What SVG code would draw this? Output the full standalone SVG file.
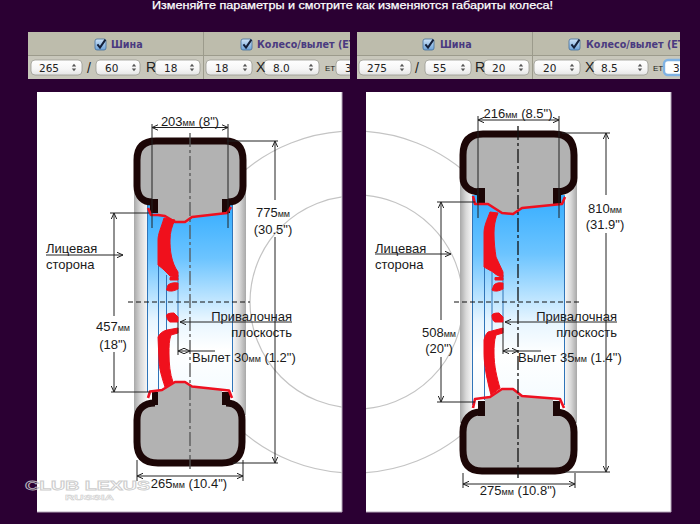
<svg xmlns="http://www.w3.org/2000/svg" xmlns:xlink="http://www.w3.org/1999/xlink" width="700" height="524" viewBox="0 0 700 524">
<style>
text{font-family:"Liberation Sans",Arial,sans-serif;fill:#1a1a1a}
.t{font-size:13px}
.m{font-size:9px}
.mid{text-anchor:middle}
.end{text-anchor:end}
.title{font-size:11.5px;fill:#fff;stroke:#fff;stroke-width:.25}
.hd{font-family:"DejaVu Sans",sans-serif;font-size:9.6px;font-weight:bold;fill:#4a3a80}
.sel{font-family:"DejaVu Sans",sans-serif;font-size:10.5px;fill:#222}
.sym{font-size:14px;fill:#222}
.selbox{fill:url(#selg);stroke:#9a9a92;stroke-width:.8}
.d{stroke:#222;stroke-width:1;fill:none}
.da{stroke:#222;stroke-width:1;fill:none;marker-start:url(#a);marker-end:url(#a)}
.a1{stroke:#222;stroke-width:1;fill:none;marker-end:url(#a)}
.gr{fill:none;stroke:#c4c4c4;stroke-width:1.2}
.tb{fill:none;stroke:#1c0606;stroke-width:7}
.tf{fill:#b2b2b2}
.bd{fill:#1c0606}
.r{fill:#f0101c;stroke:#f0101c;stroke-width:1;stroke-linejoin:round}
.rl{fill:none;stroke:#ee1020;stroke-width:2.6;stroke-linejoin:round}
.bl{stroke:#2f74b8;stroke-width:1;fill:none}
.ax{stroke:#555;stroke-width:1.3;stroke-dasharray:14 3 3 3;fill:none}
.ds{stroke:#111;stroke-width:1;stroke-dasharray:5 3;fill:none}
.wm{fill:none;stroke:#c8c8c8;stroke-width:.8;font-family:"Liberation Sans",sans-serif;font-weight:bold;opacity:.9}
.edge{fill:none;stroke:#b5a8ba;stroke-width:1}
</style>
<defs>
<linearGradient id="selg" x1="0" y1="0" x2="0" y2="1"><stop offset="0" stop-color="#fff"/><stop offset=".6" stop-color="#f6f6f6"/><stop offset="1" stop-color="#e4e4e4"/></linearGradient>
<linearGradient id="cb" x1="0" y1="0" x2="0" y2="1"><stop offset="0" stop-color="#cfe3f7"/><stop offset="1" stop-color="#6ea3d8"/></linearGradient>
<linearGradient id="blue" x1="0" y1="0" x2="0" y2="1"><stop offset="0" stop-color="#35adff"/><stop offset=".28" stop-color="#6cc4ff"/><stop offset=".6" stop-color="#e6f5ff"/><stop offset=".76" stop-color="#fff"/><stop offset="1" stop-color="#f4fbff"/></linearGradient>
<linearGradient id="sl" x1="0" y1="0" x2="1" y2="0"><stop offset="0" stop-color="#a8a8a8"/><stop offset=".5" stop-color="#d8d8d8"/><stop offset="1" stop-color="#f6f6f6"/></linearGradient>
<linearGradient id="sr" x1="1" y1="0" x2="0" y2="0"><stop offset="0" stop-color="#a8a8a8"/><stop offset=".5" stop-color="#d8d8d8"/><stop offset="1" stop-color="#f6f6f6"/></linearGradient>
<marker id="a" markerWidth="7" markerHeight="7" refX="6" refY="3.5" orient="auto-start-reverse" markerUnits="userSpaceOnUse"><path d="M0,.8 L6,3.5 L0,6.2" fill="none" stroke="#222" stroke-width="1"/></marker>
<clipPath id="pl"><rect x="37" y="92" width="305" height="420"/></clipPath>
<clipPath id="pr"><rect x="366" y="92" width="305" height="420"/></clipPath>
<clipPath id="bl"><rect x="28" y="32" width="322" height="47"/></clipPath>
<clipPath id="br"><rect x="357" y="32" width="323" height="47"/></clipPath>
<g id="sp"><path d="M-2.200,-1 L0,-3.800 L2.200,-1Z M-2.200,1 L0,3.800 L2.200,1Z" fill="#555"/></g>
<g id="ck"><rect x="0" y="0" width="11" height="11" rx="2" fill="url(#cb)" stroke="#456f9c" stroke-width=".8"/><path d="M2.400,5.400 L5,8.600 L10.400,.6" fill="none" stroke="#14203a" stroke-width="2"/></g>
</defs>

<rect width="700" height="524" fill="#2b0033"/>
<text class="title" x="152" y="9" textLength="401" lengthAdjust="spacingAndGlyphs">Изменяйте параметры и смотрите как изменяются габариты колеса!</text>

<g id="form-left" clip-path="url(#bl)">
<rect x="28" y="32" width="322" height="23" fill="#bdbcac"/>
<rect x="28" y="55" width="322" height="24" fill="#c8c7bb"/>
<path d="M28,55.500H350M203.500,32V79" stroke="#9c9b8c" stroke-width="1"/>
<use xlink:href="#ck" x="95" y="39"/>
<text class="hd" x="111" y="48">Шина</text>
<use xlink:href="#ck" x="241" y="39"/>
<text class="hd" x="257" y="48">Колесо/вылет (ЕТ</text>
<rect class="selbox" x="31" y="60" width="51" height="15" rx="4"/>
<rect class="selbox" x="96" y="60" width="44" height="15" rx="4"/>
<rect class="selbox" x="155" y="60" width="45" height="15" rx="4"/>
<rect class="selbox" x="206" y="60" width="46" height="15" rx="4"/>
<rect class="selbox" x="264" y="60" width="55" height="15" rx="4"/>
<rect class="selbox" x="336" y="60" width="30" height="15" rx="4"/>
<text class="sel" x="39" y="72">265</text><use xlink:href="#sp" x="74" y="67.500"/>
<text class="sym" x="87" y="73">/</text>
<text class="sel" x="105" y="72">60</text><use xlink:href="#sp" x="134" y="67.500"/>
<text class="sym" x="146" y="72">R</text>
<text class="sel" x="164" y="72">18</text><use xlink:href="#sp" x="192" y="67.500"/>
<text class="sel" x="215" y="72">18</text><use xlink:href="#sp" x="245" y="67.500"/>
<text class="sym" x="256" y="72">X</text>
<text class="sel" x="273" y="72">8.0</text><use xlink:href="#sp" x="311" y="67.500"/>
<text x="325" y="71" style="font-size:8px">ЕТ</text>
<text class="sel" x="345" y="72">3</text>
</g>

<g id="form-right" clip-path="url(#br)">
<rect x="357" y="32" width="323" height="23" fill="#bdbcac"/>
<rect x="357" y="55" width="323" height="24" fill="#c8c7bb"/>
<path d="M357,55.500H680M532.500,32V79" stroke="#9c9b8c" stroke-width="1"/>
<use xlink:href="#ck" x="423" y="39"/>
<text class="hd" x="440" y="48">Шина</text>
<use xlink:href="#ck" x="569" y="39"/>
<text class="hd" x="586" y="48">Колесо/вылет (ЕТ</text>
<rect class="selbox" x="359" y="60" width="52" height="15" rx="4"/>
<rect class="selbox" x="425" y="60" width="46" height="15" rx="4"/>
<rect class="selbox" x="484" y="60" width="45" height="15" rx="4"/>
<rect class="selbox" x="534" y="60" width="46" height="15" rx="4"/>
<rect class="selbox" x="593" y="60" width="55" height="15" rx="4"/>
<rect x="664" y="60" width="30" height="15" rx="4" fill="#fff" stroke="#7fb2e4" stroke-width="2.400"/>
<text class="sel" x="367" y="72">275</text><use xlink:href="#sp" x="402" y="67.500"/>
<text class="sym" x="415" y="73">/</text>
<text class="sel" x="433" y="72">55</text><use xlink:href="#sp" x="463" y="67.500"/>
<text class="sym" x="475" y="72">R</text>
<text class="sel" x="492" y="72">20</text><use xlink:href="#sp" x="521" y="67.500"/>
<text class="sel" x="543" y="72">20</text><use xlink:href="#sp" x="572" y="67.500"/>
<text class="sym" x="585" y="72">X</text>
<text class="sel" x="601" y="72">8.5</text><use xlink:href="#sp" x="640" y="67.500"/>
<text x="653" y="71" style="font-size:8px">ЕТ</text>
<text class="sel" x="673" y="72">3</text>
</g>

<rect id="panel-left" x="37" y="92" width="305" height="420" fill="#fff"/>
<rect id="panel-right" x="366" y="92" width="305" height="420" fill="#fff"/>
<path class="edge" d="M37,512H342V92M366,512H671V92"/>

<g id="circles-left" clip-path="url(#pl)"><circle class="gr" cx="354" cy="302" r="171"/><circle class="gr" cx="356" cy="302" r="106"/></g>
<g id="circles-right" clip-path="url(#pr)"><circle class="gr" cx="354" cy="302" r="171"/><circle class="gr" cx="356" cy="302" r="107"/></g>

<g id="wheel-left">
<rect x="134" y="190" width="13" height="225" fill="url(#sl)"/>
<rect x="233" y="190" width="13" height="225" fill="url(#sr)"/>
<rect x="147" y="205" width="86" height="190" fill="url(#blue)"/>
<path class="bl" d="M147.500,205V392M158.500,262V392M166.500,275V386M178,275V322M232.500,205V392"/>
<path class="tf" d="M137,160Q137,141 156,141H225Q243,141 243,160V186C243,197 236,202 222,202V214L193,218L187,223L173,222L162,215H158V202C144,202 137,197 137,186Z"/>
<path class="tb" d="M152,202C144,202 137,197 137,186V160Q137,141 156,141H225Q243,141 243,160V186C243,197 236,202 228,202"/>
<rect class="bd" x="150" y="199" width="8" height="14"/><rect class="bd" x="222" y="199" width="8" height="14"/>
<path class="rl" d="M148,208L151,215H158L165,216L175,222L185,222L192,217L227,213L231,207"/>
<path class="r" d="M164,218L175,220C172,226 170,232 170,240C170,250 171,262 178,272V277C175,277 171,277 170,276L163,269L158,265V240C158,234 161,228 164,218Z"/>
<path class="r" d="M170,277.500H178V280H170Z"/>
<path class="r" d="M168,285C172,282 176,283 178,283V289C174,291 170,292 166.500,290Z"/>
<path class="r" d="M166.500,315C168,313 172,313 174,313L178,317V322H170C168,321 167,319 166.500,315Z"/>
<path class="r" d="M178,328V333L171,335C169,340 169,347 169,353C169,364 170,374 173,382L165,387C162,378 159,368 159,360L158,337C160,333 163,331 167,330Z"/>
<path class="tf" d="M158,403V390L162,389L175,382L185,382L192,387L222,389V403C236,403 242,409 242,420V442Q242,463 222,463H158Q137,463 137,442V420C137,409 144,403 155,403Z"/>
<path class="tb" d="M155,403C144,403 137,409 137,420V442Q137,463 158,463H222Q242,463 242,442V420C242,409 236,403 226,403"/>
<rect class="bd" x="152" y="392" width="6" height="13"/><rect class="bd" x="222" y="392" width="8" height="13"/>
<path class="rl" d="M148,398L150,391.500L162,390L175,382L185,382L192,386.500L229,390.500L232,398"/>
</g>

<g id="wheel-right">
<rect x="460" y="183" width="12" height="240" fill="url(#sl)"/>
<rect x="565" y="183" width="12" height="240" fill="url(#sr)"/>
<rect x="472" y="195" width="93" height="210" fill="url(#blue)"/>
<path class="bl" d="M472.500,196V405M484.500,267V400M492,272V385M503,275V322M564.500,196V405"/>
<path class="tf" d="M463,155Q463,134 483,134H554Q574,134 574,155V178C574,187 566,192 553,192V204L522,208L513,215L502,213L488,204H485V192C471,192 463,187 463,178Z"/>
<path class="tb" d="M479,192C471,192 463,187 463,178V155Q463,134 483,134H554Q574,134 574,155V178C574,187 566,192 556,192"/>
<rect class="bd" x="477" y="188" width="8" height="16"/><rect class="bd" x="553" y="188" width="8" height="16"/>
<path class="rl" d="M473,196L475,204H488L502,213L513,214L522,208L562,204L565,197"/>
<path class="r" d="M490,212L498,213C495,220 494,226 494,233C494,243 495,250 496,257L503,272V277C499,277 495,274 493,272L484,267V233C484,226 487,220 490,212Z"/>
<path class="r" d="M495,277.500H503V280H495Z"/>
<path class="r" d="M494,285C497,282 501,283 503,283V289C499,291 495,292 492,290Z"/>
<path class="r" d="M492,315C493,313 497,313 499,313L503,317V322H495C493,321 492,319 492,315Z"/>
<path class="r" d="M503,328V333L496,335C494,341 494,347 494,353C494,366 497,378 500,388L491,395C487,380 484,365 484,353V340C485,336 486,334 488,332Z"/>
<path class="tf" d="M485,416V399L490,397L502,389L513,389L522,396L553,399V412C566,412 574,419 574,432V450Q574,471 555,471H482Q463,471 463,450V432C463,419 471,412 480,412Z"/>
<path class="tb" d="M480,412C471,412 463,419 463,432V450Q463,471 482,471H555Q574,471 574,450V432C574,419 566,412 556,412"/>
<rect class="bd" x="478" y="401" width="7" height="15"/><rect class="bd" x="553" y="401" width="7" height="15"/>
<path class="rl" d="M473,408L475,399L490,397L502,389L513,389L522,396L560,399L564,408"/>
</g>

<g id="connectors">
<path class="ax" d="M190,133V472"/>
<path class="d" d="M152,124V228M228,124V228M110,213H149M111,392H150M227,141H278M233,463H278M178,322V355M137,460V481M243,460V481"/>
<path class="da" d="M152,127.500H228"/>
<path class="a1" d="M275,200V141"/><path class="a1" d="M275,237V463"/>
<path class="a1" d="M114,316V213"/><path class="a1" d="M114,352V392"/>
<path class="a1" d="M46,255H123"/>
<path class="a1" d="M292,322H180"/>
<path class="da" d="M178,351H190"/><path class="d" d="M190,351H215"/>
<path class="da" d="M137,476H243"/>
<path class="ds" d="M128,302H250"/>

<path class="ax" style="stroke:#111" d="M518,126V478"/>
<path class="d" d="M478,116V218M559,116V218M437,202H475M437,402H475M562,133H610M565,472H610M503,322V354M463,473V488M575,473V488"/>
<path class="da" d="M478,120H559"/>
<path class="a1" d="M606,195V133"/><path class="a1" d="M606,233V472"/>
<path class="a1" d="M441,320V202"/><path class="a1" d="M441,357V402"/>
<path class="a1" d="M375,254H451"/>
<path class="a1" d="M617,322H505"/>
<path class="da" d="M503,351H518"/><path class="d" d="M518,351H541"/>
<path class="da" d="M463,484H575"/>
<path class="ds" d="M454,302H581"/>
</g>

<g id="labels-left">
<text class="t mid" x="190" y="126">203<tspan class="m">мм</tspan> (8")</text>
<text class="t mid" x="273" y="217">775<tspan class="m">мм</tspan></text>
<text class="t mid" x="273" y="234">(30.5")</text>
<text class="t mid" x="113" y="331">457<tspan class="m">мм</tspan></text>
<text class="t mid" x="113" y="349">(18")</text>
<text class="t" x="46" y="253">Лицевая</text>
<text class="t" x="46" y="269">сторона</text>
<text class="t end" x="292" y="320.500">Привалочная</text>
<text class="t end" x="292" y="337">плоскость</text>
<text class="t" x="192" y="362">Вылет 30<tspan class="m">мм</tspan> (1.2")</text>
<text class="t mid" x="189" y="488">265<tspan class="m">мм</tspan> (10.4")</text>
</g>

<g id="labels-right">
<text class="t mid" x="518" y="118">216<tspan class="m">мм</tspan> (8.5")</text>
<text class="t mid" x="605" y="213">810<tspan class="m">мм</tspan></text>
<text class="t mid" x="605" y="229">(31.9")</text>
<text class="t mid" x="439" y="337">508<tspan class="m">мм</tspan></text>
<text class="t mid" x="439" y="353">(20")</text>
<text class="t" x="375" y="253">Лицевая</text>
<text class="t" x="375" y="269">сторона</text>
<text class="t end" x="617" y="320.500">Привалочная</text>
<text class="t end" x="617" y="337">плоскость</text>
<text class="t" x="518" y="362">Вылет 35<tspan class="m">мм</tspan> (1.4")</text>
<text class="t mid" x="518" y="495">275<tspan class="m">мм</tspan> (10.8")</text>
</g>

<g id="watermark">
<text class="wm" x="25" y="490" style="font-size:12.500px" textLength="125" lengthAdjust="spacingAndGlyphs">CLUB LEXUS</text>
<text class="wm" x="65" y="500" style="font-size:8px;stroke-width:.5" textLength="49" lengthAdjust="spacingAndGlyphs">RUSSIA</text>
</g>
</svg>
